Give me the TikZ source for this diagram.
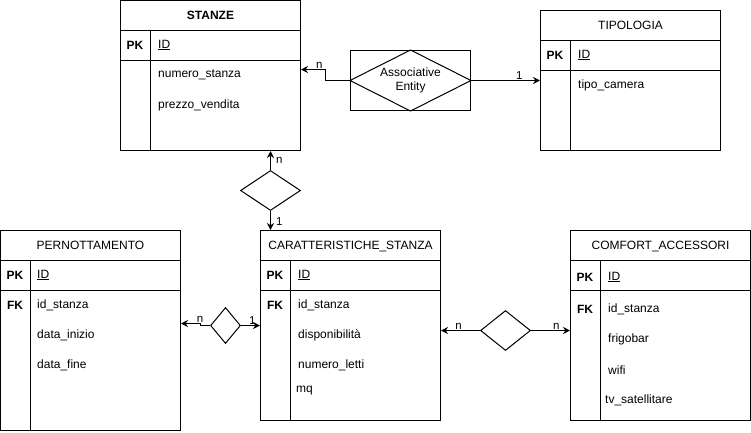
\documentclass[tikz,border=0pt]{standalone}
\usepackage{fontspec}
\setmainfont{Liberation Sans}
\usetikzlibrary{positioning,calc,shapes.geometric,arrows.meta}

\begin{document}
\begin{tikzpicture}[x=1pt,y=-1pt,
      font=\fontsize{12}{14}\selectfont,
      tabella/.style={draw, line width=1pt, minimum width=180pt, inner sep=0pt},
      riga/.style={line width=1pt},
      attributo/.style={anchor=west, inner sep=0pt},
      chiave/.style={inner sep=0pt, font=\fontsize{12}{14}\selectfont\bfseries},
      relazione/.style={draw, diamond, line width=1pt, inner sep=0pt},
      freccia/.style={line width=1pt, -{Stealth[length=7pt,width=7pt]}},
      etichetta/.style={font=\fontsize{11.5}{13}\selectfont, inner sep=1pt}]

   \useasboundingbox (0,0) rectangle (751,432);

   % STANZE
   \node[tabella, minimum height=150pt] (stanze) at (210.5,75.5) {};
   \draw[riga] ($(stanze.north west)+(0,30)$) -- ++(180,0)
               ($(stanze.north west)+(0,60)$) -- ++(180,0)
               ($(stanze.north west)+(30,30)$) -- ++(0,120);
   \node[font=\fontsize{12}{14}\selectfont\bfseries, below=8pt of stanze.north] (stanze-nome) {STANZE};
   \node[chiave] (stanze-pk) at ($(stanze.north west)+(15,45)$) {PK};
   \node[attributo] (stanze-id) at ($(stanze.north west)+(38,45)$) {\underline{ID}};
   \node[attributo] (stanze-a1) at ($(stanze.north west)+(38,75)$) {numero\_stanza};
   \node[attributo] (stanze-a2) at ($(stanze.north west)+(38,105)$) {prezzo\_vendita};

   % TIPOLOGIA
   \node[tabella, minimum height=140pt] (tipologia) at (630.5,80.5) {};
   \draw[riga] ($(tipologia.north west)+(0,30)$) -- ++(180,0)
               ($(tipologia.north west)+(0,60)$) -- ++(180,0)
               ($(tipologia.north west)+(30,30)$) -- ++(0,110);
   \node[below=8pt of tipologia.north] (tipologia-nome) {TIPOLOGIA};
   \node[chiave] (tipologia-pk) at ($(tipologia.north west)+(15,45)$) {PK};
   \node[attributo] (tipologia-id) at ($(tipologia.north west)+(38,45)$) {\underline{ID}};
   \node[attributo] (tipologia-a1) at ($(tipologia.north west)+(38,75)$) {tipo\_camera};

   % PERNOTTAMENTO
   \node[tabella, minimum height=200pt] (pernottamento) at (90.5,330.5) {};
   \draw[riga] ($(pernottamento.north west)+(0,30)$) -- ++(180,0)
               ($(pernottamento.north west)+(0,60)$) -- ++(180,0)
               ($(pernottamento.north west)+(30,30)$) -- ++(0,170);
   \node[below=8pt of pernottamento.north] (pernottamento-nome) {PERNOTTAMENTO};
   \node[chiave] (pernottamento-pk) at ($(pernottamento.north west)+(15,45)$) {PK};
   \node[chiave] (pernottamento-fk) at ($(pernottamento.north west)+(15,75)$) {FK};
   \node[attributo] (pernottamento-id) at ($(pernottamento.north west)+(37,45)$) {\underline{ID}};
   \node[attributo] (pernottamento-a1) at ($(pernottamento.north west)+(37,75)$) {id\_stanza};
   \node[attributo] (pernottamento-a2) at ($(pernottamento.north west)+(37,105)$) {data\_inizio};
   \node[attributo] (pernottamento-a3) at ($(pernottamento.north west)+(37,135)$) {data\_fine};

   % CARATTERISTICHE_STANZA
   \node[tabella, minimum height=190pt] (caratt) at (350.5,325.5) {};
   \draw[riga] ($(caratt.north west)+(0,30)$) -- ++(180,0)
               ($(caratt.north west)+(0,60)$) -- ++(180,0)
               ($(caratt.north west)+(30,30)$) -- ++(0,160);
   \node[below=8pt of caratt.north] (caratt-nome) {CARATTERISTICHE\_STANZA};
   \node[chiave] (caratt-pk) at ($(caratt.north west)+(15,45)$) {PK};
   \node[chiave] (caratt-fk) at ($(caratt.north west)+(15,75)$) {FK};
   \node[attributo] (caratt-id) at ($(caratt.north west)+(38,45)$) {\underline{ID}};
   \node[attributo] (caratt-a1) at ($(caratt.north west)+(38,75)$) {id\_stanza};
   \node[attributo] (caratt-a2) at ($(caratt.north west)+(38,105)$) {disponibilità};
   \node[attributo] (caratt-a3) at ($(caratt.north west)+(38,135)$) {numero\_letti};
   \node[attributo] (caratt-a4) at ($(caratt.north west)+(36,161)$) {mq};

   % COMFORT_ACCESSORI
   \node[tabella, minimum height=190pt] (comfort) at (660.5,325.5) {};
   \draw[riga] ($(comfort.north west)+(0,30)$) -- ++(180,0)
               ($(comfort.north west)+(0,60)$) -- ++(180,0)
               ($(comfort.north west)+(30,30)$) -- ++(0,160);
   \node[below=8pt of comfort.north] (comfort-nome) {COMFORT\_ACCESSORI};
   \node[chiave] (comfort-pk) at ($(comfort.north west)+(15,47)$) {PK};
   \node[chiave] (comfort-fk) at ($(comfort.north west)+(15,79)$) {FK};
   \node[attributo] (comfort-id) at ($(comfort.north west)+(38,47)$) {\underline{ID}};
   \node[attributo] (comfort-a1) at ($(comfort.north west)+(38,79)$) {id\_stanza};
   \node[attributo] (comfort-a2) at ($(comfort.north west)+(38,109)$) {frigobar};
   \node[attributo] (comfort-a3) at ($(comfort.north west)+(38,140)$) {wifi};
   \node[attributo] (comfort-a4) at ($(comfort.north west)+(35,170)$) {tv\_satellitare};

   % associative entity
   \node[draw, line width=1pt, minimum width=120pt, minimum height=60pt,
         inner sep=0pt, align=center] (assoc) at (410.5,80.5) {Associative\\Entity};
   \draw[riga] (assoc.west) -- (assoc.north) -- (assoc.east) -- (assoc.south) -- cycle;

   % relazioni
   \node[relazione, minimum width=60pt, minimum height=40pt] (rel1) at (270.5,190.5) {};
   \node[relazione, minimum width=30pt, minimum height=36pt] (rel2) at (225.5,325.5) {};
   \node[relazione, minimum width=50pt, minimum height=40pt] (rel3) at (505.5,330.5) {};

   % archi
   \draw[freccia] (assoc.west) -- ++(-25,0)
      |- node[etichetta, above, pos=0.62] {n} ($(stanze.east)+(0,-6)$);
   \draw[freccia] (assoc.east) -- node[etichetta, above, pos=0.7] {1} (tipologia.west);
   \draw[freccia] (rel1.north) -- node[etichetta, right=4pt] {n} (rel1.north |- stanze.south);
   \draw[freccia] (rel1.south) -- node[etichetta, right=4pt, pos=0.55] {1} (rel1.south |- caratt.north);
   \draw[freccia] (rel2.west) -- ++(-10,0)
      |- node[etichetta, above, pos=0.5] {n} ($(pernottamento.east)+(0,-7)$);
   \draw[freccia] (rel2.east) -- node[etichetta, above, pos=0.6] {1} (rel2.east -| caratt.west);
   \draw[freccia] (rel3.west) -- node[etichetta, above, pos=0.55] {n} (rel3.west -| caratt.east);
   \draw[freccia] (rel3.east) -- node[etichetta, above, pos=0.65] {n} (rel3.east -| comfort.west);

\end{tikzpicture}
\end{document}
